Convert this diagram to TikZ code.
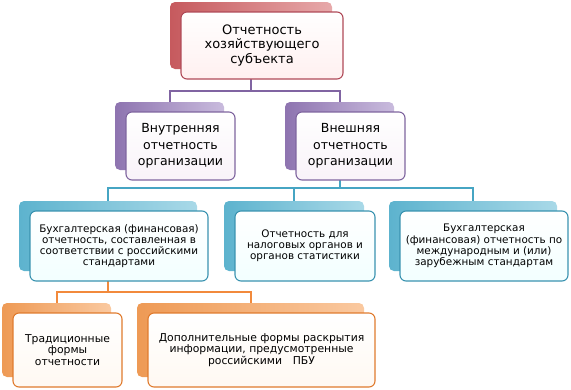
\documentclass[tikz,border=0pt]{standalone}
\usepackage{fontspec}
\setmainfont{DejaVu Sans}
\usetikzlibrary{positioning,calc}

\definecolor{redDark}{HTML}{C65A5E}
\definecolor{redLight}{HTML}{E7A9AA}
\definecolor{redLine}{HTML}{B04A58}
\definecolor{purDark}{HTML}{8E74B0}
\definecolor{purLight}{HTML}{C9BBDD}
\definecolor{purLine}{HTML}{7F659F}
\definecolor{purConn}{HTML}{8064A2}
\definecolor{bluDark}{HTML}{5DB3CE}
\definecolor{bluLight}{HTML}{A9D9E8}
\definecolor{bluLine}{HTML}{3A93B0}
\definecolor{bluConn}{HTML}{46A5C3}
\definecolor{oraDark}{HTML}{EE9A55}
\definecolor{oraLight}{HTML}{FAC9A0}
\definecolor{oraLine}{HTML}{E07B2E}
\definecolor{oraConn}{HTML}{F28A3C}

\tikzset{
  backbox/.style 2 args={rectangle, rounded corners=5pt, inner sep=0pt,
    left color=#1, right color=#2, draw=none},
  frontbox/.style 2 args={rectangle, rounded corners=6pt, inner sep=2pt,
    draw=#1, line width=1.1pt, top color=white, bottom color=#2, align=center},
  conn/.style={line width=2pt, draw=#1},
  topfont/.style={font=\fontsize{13}{14.5}\selectfont},
  midfont/.style={font=\fontsize{12.5}{16.5}\selectfont},
  lowfont/.style={font=\fontsize{10.4}{11.2}\selectfont},
  botfont/.style={font=\fontsize{10.8}{11.6}\selectfont}
}

\begin{document}
\begin{tikzpicture}[x=1pt, y=-1pt]
    \useasboundingbox (0,0) rectangle (571,389);

    % back boxes
    \node[backbox={redDark}{redLight}, minimum width=162pt, minimum height=67pt] (top0) at (251,35.5) {};
    \node[backbox={purDark}{purLight}, minimum width=109pt, minimum height=68pt] (int0) at (169.5,136) {};
    \node[backbox={purDark}{purLight}, minimum width=109pt, minimum height=68pt] (ext0) at (339.5,136) {};
    \node[backbox={bluDark}{bluLight}, minimum width=178pt, minimum height=70pt] (rus0) at (108,236) {};
    \node[backbox={bluDark}{bluLight}, minimum width=140pt, minimum height=70pt] (tax0) at (294,236) {};
    \node[backbox={bluDark}{bluLight}, minimum width=168pt, minimum height=70pt] (ifr0) at (473,236) {};
    \node[backbox={oraDark}{oraLight}, minimum width=109pt, minimum height=74pt] (trad0) at (56.5,340) {};
    \node[backbox={oraDark}{oraLight}, minimum width=227pt, minimum height=74pt] (add0) at (250.5,340) {};

    % connectors
    \draw[conn=purConn] (top0.south) -- (top0.south |- 0,91) -| (int0.north);
    \draw[conn=purConn] (top0.south |- 0,91) -| (ext0.north);
    \draw[conn=bluConn] (ext0.south) -- (ext0.south |- 0,188) -| (rus0.north);
    \draw[conn=bluConn] (ext0.south |- 0,188) -| (ifr0.north);
    \draw[conn=bluConn] (tax0.north |- 0,188) -- (tax0.north);
    \draw[conn=oraConn] (rus0.south) -- (rus0.south |- 0,292) -| (trad0.north);
    \draw[conn=oraConn] (rus0.south |- 0,292) -| (add0.north);

    % front boxes
    \node[frontbox={redLine}{red!6}, topfont, minimum width=162pt, minimum height=67pt] (top) at (262,45.5)
      {Отчетность\\хозяйствующего\\субъекта};
    \node[frontbox={purLine}{violet!5}, midfont, minimum width=109pt, minimum height=68pt] (int) at (180.5,146)
      {Внутренняя\\отчетность\\организации};
    \node[frontbox={purLine}{violet!5}, midfont, minimum width=109pt, minimum height=68pt] (ext) at (350.5,146)
      {Внешняя\\отчетность\\организации};
    \node[frontbox={bluLine}{cyan!5}, lowfont, minimum width=178pt, minimum height=70pt] (rus) at (119,246)
      {Бухгалтерская (финансовая)\\отчетность, составленная в\\соответствии с российскими\\стандартами};
    \node[frontbox={bluLine}{cyan!5}, lowfont, minimum width=140pt, minimum height=70pt] (tax) at (305,246)
      {Отчетность для\\налоговых органов и\\органов статистики};
    \node[frontbox={bluLine}{cyan!5}, lowfont, minimum width=168pt, minimum height=70pt] (ifr) at (484,246)
      {Бухгалтерская\\(финансовая) отчетность по\\международным и (или)\\зарубежным стандартам};
    \node[frontbox={oraLine}{orange!5}, botfont, minimum width=109pt, minimum height=74pt] (trad) at (67.5,350)
      {Традиционные\\формы\\отчетности};
    \node[frontbox={oraLine}{orange!5}, botfont, minimum width=227pt, minimum height=74pt] (add) at (261.5,350)
      {Дополнительные формы раскрытия\\информации, предусмотренные\\российскими\quad ПБУ};
\end{tikzpicture}
\end{document}
